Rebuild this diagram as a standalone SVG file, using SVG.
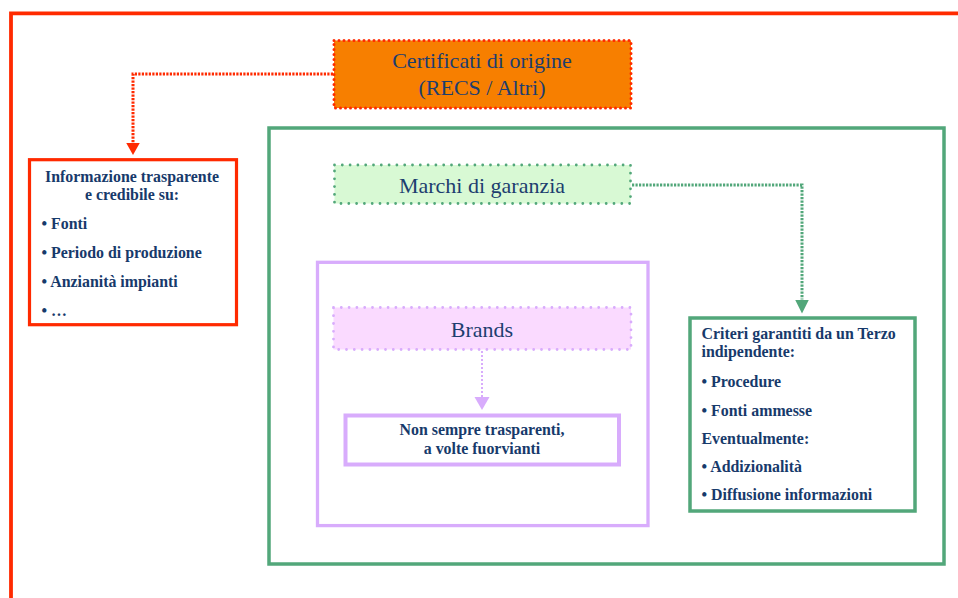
<svg xmlns="http://www.w3.org/2000/svg" width="958" height="598" viewBox="0 0 958 598">
<style>
.reg{font-family:"Liberation Serif","Times New Roman",serif;fill:#1d3e6f;font-size:22px;}
.bold{font-family:"Liberation Serif","Times New Roman",serif;font-weight:bold;fill:#173a6b;font-size:15.9px;}
.solid{fill:#fff;}
</style>
<defs>
<marker id="arrRed" markerUnits="userSpaceOnUse" markerWidth="13" markerHeight="15" refX="0" refY="7" orient="auto"><path d="M0,0 L12.5,7 L0,14 z" fill="#ff2a00"/></marker>
<marker id="arrGreen" markerUnits="userSpaceOnUse" markerWidth="15" markerHeight="15" refX="0" refY="7" orient="auto"><path d="M0,0 L14,7 L0,14 z" fill="#52a77a"/></marker>
<marker id="arrPurple" markerUnits="userSpaceOnUse" markerWidth="14" markerHeight="16" refX="0" refY="7.5" orient="auto"><path d="M0,0 L13,7.5 L0,15 z" fill="#d8acfc"/></marker>
</defs>
<rect width="958" height="598" fill="#fff"/>
<g id="frame">
<path d="M11,598 V13.3 H958" fill="none" stroke="#ff2a00" stroke-width="3.8"/>
</g>
<g id="garanzia-area">
<rect x="269" y="128" width="675" height="436" fill="#fff" stroke="#52a77a" stroke-width="3.5"/>
</g>
<g id="brands-area">
<rect x="317.5" y="262.3" width="330.5" height="263.3" fill="#fff" stroke="#d8acfc" stroke-width="3.3"/>
</g>
<g id="certificati">
<rect x="334" y="40.5" width="297" height="67.5" fill="#f77f00" stroke="#ff2a00" stroke-width="3" stroke-dasharray="0 5" stroke-linecap="round"/>
<text class="reg" x="482" y="68" text-anchor="middle">Certificati di origine</text>
<text class="reg" x="482" y="95" text-anchor="middle">(RECS / Altri)</text>
</g>
<g id="informazione">
<rect x="29.5" y="159.7" width="207" height="165" class="solid" stroke="#ff2a00" stroke-width="3.2"/>
<text class="bold" x="132" y="182" text-anchor="middle">Informazione trasparente</text>
<text class="bold" x="132" y="200" text-anchor="middle">e credibile su:</text>
<text class="bold" x="41.5" y="228.5">• Fonti</text>
<text class="bold" x="41.5" y="257.5">• Periodo di produzione</text>
<text class="bold" x="41.5" y="287">• Anzianità impianti</text>
<text class="bold" x="41.5" y="315.5">• …</text>
</g>
<g id="marchi">
<rect x="334.5" y="165" width="296" height="38.5" fill="#d8f9d4" stroke="#52a77a" stroke-width="2.8" stroke-dasharray="0 7.8" stroke-linecap="round"/>
<text class="reg" x="482" y="193" text-anchor="middle">Marchi di garanzia</text>
</g>
<g id="brands">
<rect x="333.5" y="307.5" width="297.5" height="42" fill="#fadaff" stroke="#d8acfc" stroke-width="2.8" stroke-dasharray="0 7.8" stroke-linecap="round"/>
<text class="reg" x="482" y="337" text-anchor="middle">Brands</text>
</g>
<g id="non-sempre">
<rect x="345.5" y="415.5" width="273.5" height="49" class="solid" stroke="#d8acfc" stroke-width="4"/>
<text class="bold" x="482" y="435" text-anchor="middle">Non sempre trasparenti,</text>
<text class="bold" x="482" y="454" text-anchor="middle">a volte fuorvianti</text>
</g>
<g id="criteri">
<rect x="690" y="318" width="225" height="193" class="solid" stroke="#52a77a" stroke-width="3.5"/>
<text class="bold" x="701.5" y="338.5">Criteri garantiti da un Terzo</text>
<text class="bold" x="701.5" y="357">indipendente:</text>
<text class="bold" x="701.5" y="387">• Procedure</text>
<text class="bold" x="701.5" y="416">• Fonti ammesse</text>
<text class="bold" x="701.5" y="443.5">Eventualmente:</text>
<text class="bold" x="701.5" y="472">• Addizionalità</text>
<text class="bold" x="701.5" y="500">• Diffusione informazioni</text>
</g>
<g id="connectors" fill="none">
<path d="M333,74 H133 V142.5" stroke="#ff2a00" stroke-width="3" stroke-dasharray="2.2 1.3" marker-end="url(#arrRed)"/>
<path d="M632,185 H802 V299.5" stroke="#52a77a" stroke-width="3" stroke-dasharray="2.2 1.3" marker-end="url(#arrGreen)"/>
<path d="M482,351 V397" stroke="#d8acfc" stroke-width="2" stroke-dasharray="2 2" marker-end="url(#arrPurple)"/>
</g>
</svg>
